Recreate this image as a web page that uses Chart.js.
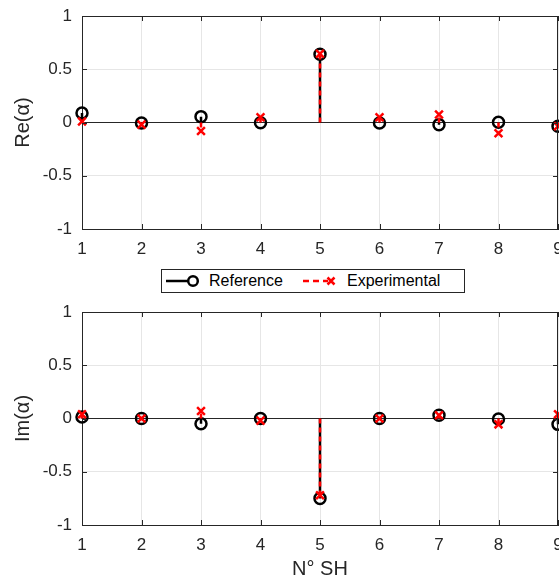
<!DOCTYPE html>
<html><head><meta charset="utf-8">
<script src="https://cdn.jsdelivr.net/npm/chart.js@4.4.1/dist/chart.umd.min.js"></script>
<style>
body{margin:0;width:559px;height:578px;overflow:hidden;background:#fff;position:relative;font-family:"Liberation Sans",Arial,sans-serif}
.wrap{position:absolute;left:0}
#legend{position:absolute;left:161px;top:269px;width:302px;height:22px;border:1px solid #262626;background:#fff;font-size:16px;color:#000}
#legend span{position:absolute;top:2px}
#legend svg{position:absolute;top:0}
</style></head><body>
<div class="wrap" style="top:0"><canvas id="c1" width="575" height="262"></canvas></div>
<div class="wrap" style="top:296px"><canvas id="c2" width="575" height="300"></canvas></div>
<div id="legend">
<svg style="left:0" width="45" height="22"><line x1="4" y1="11" x2="27" y2="11" stroke="#000" stroke-width="2.5"/><circle cx="31" cy="11" r="4.8" fill="none" stroke="#000" stroke-width="2.5"/></svg>
<span style="left:47px">Reference</span>
<svg style="left:138px" width="40" height="22"><line x1="3" y1="11" x2="28" y2="11" stroke="#f00" stroke-width="2.5" stroke-dasharray="6,4"/><path d="M27.5 7.5L34.5 14.5M34.5 7.5L27.5 14.5" stroke="#f00" stroke-width="2.5"/></svg>
<span style="left:185px">Experimental</span>
</div>
<script>
const shIndex = [1, 2, 3, 4, 5, 6, 7, 8, 9];
const reReference    = [0.09, -0.005, 0.055, -0.003, 0.64, -0.005, -0.02, 0.003, -0.035];
const reExperimental = [0.01, -0.02, -0.08, 0.05, 0.645, 0.05, 0.075, -0.10, -0.035];
const imReference    = [0.015, 0.0, -0.05, 0.0, -0.75, 0.0, 0.03, -0.005, -0.055];
const imExperimental = [0.04, 0.0, 0.07, -0.02, -0.72, 0.0, 0.03, -0.055, 0.04];
const yTicks = [-1, -0.5, 0, 0.5, 1];

const FONT = '"Liberation Sans", Arial, sans-serif';
const AX = '#262626';

function stems(xs, ys) {
  const out = [];
  xs.forEach((x, i) => { out.push({x: x, y: 0}, {x: x, y: ys[i]}, {x: x, y: null}); });
  return out;
}
function pts(xs, ys) { return xs.map((x, i) => ({x: x, y: ys[i]})); }

const boxPlugin = {
  id: 'box',
  afterDraw(chart) {
    const {ctx, chartArea: a, scales} = chart;
    ctx.save();
    ctx.strokeStyle = AX; ctx.lineWidth = 1;
    ctx.beginPath();
    ctx.moveTo(a.left, a.top + 0.5); ctx.lineTo(a.right, a.top + 0.5);
    ctx.moveTo(a.right - 0.5, a.top); ctx.lineTo(a.right - 0.5, a.bottom);
    scales.x.ticks.forEach(t => {
      const px = Math.round(scales.x.getPixelForValue(t.value)) + 0.5;
      ctx.moveTo(px, a.bottom); ctx.lineTo(px, a.bottom - 5);
      ctx.moveTo(px, a.top); ctx.lineTo(px, a.top + 5);
    });
    scales.y.ticks.forEach(t => {
      const py = Math.round(scales.y.getPixelForValue(t.value)) + 0.5;
      ctx.moveTo(a.left, py); ctx.lineTo(a.left + 5, py);
      ctx.moveTo(a.right, py); ctx.lineTo(a.right - 5, py);
    });
    ctx.stroke();
    ctx.restore();
  }
};

function makeChart(id, refVals, expVals, yTitle, xTitle, xAxisHeight) {
  return new Chart(document.getElementById(id), {
    type: 'scatter',
    data: {
      datasets: [
        {data: stems(shIndex, refVals), order: 4, showLine: true, spanGaps: false, borderColor: '#000', borderWidth: 2.5, pointRadius: 0, clip: false},
        {data: pts(shIndex, refVals), order: 3, pointStyle: 'circle', pointRadius: 5.5, borderColor: '#000', backgroundColor: 'rgba(0,0,0,0)', pointBorderWidth: 2.5, clip: false},
        {data: stems(shIndex, expVals), order: 2, showLine: true, spanGaps: false, borderColor: '#f00', borderWidth: 2.5, borderDash: [5, 4], pointRadius: 0, clip: false},
        {data: pts(shIndex, expVals), order: 1, pointStyle: 'crossRot', pointRadius: 5.5, borderColor: '#f00', pointBorderWidth: 2.5, clip: false}
      ]
    },
    options: {
      responsive: false, animation: false,
      layout: {padding: {left: 0, right: 17, top: 16, bottom: 0}},
      plugins: {legend: {display: false}, tooltip: {enabled: false}},
      scales: {
        x: {
          type: 'linear', min: 1, max: 9,
          afterBuildTicks: s => { s.ticks = shIndex.map(v => ({value: v})); },
          afterFit: s => { s.height = xAxisHeight; },
          grid: {color: '#e6e6e6', drawTicks: false},
          border: {display: true, color: AX, width: 1},
          ticks: {font: {family: FONT, size: 17}, color: AX, padding: 10, maxRotation: 0, callback: v => String(v)},
          title: xTitle ? {display: true, text: xTitle, font: {family: FONT, size: 20}, color: AX, padding: {top: 15, bottom: 15}} : {display: false}
        },
        y: {
          min: -1, max: 1,
          afterBuildTicks: s => { s.ticks = yTicks.map(v => ({value: v})); },
          afterFit: s => { s.width = 82; s.paddingTop = 0; s.paddingBottom = 0; },
          grid: {color: c => (c.tick && c.tick.value === 0) ? AX : '#e6e6e6', drawTicks: false},
          border: {display: true, color: AX, width: 1},
          ticks: {font: {family: FONT, size: 17}, color: AX, padding: 10, callback: v => String(v)},
          title: {display: true, text: yTitle, font: {family: FONT, size: 20}, color: AX, padding: {top: 11, bottom: 11}}
        }
      }
    },
    plugins: [boxPlugin]
  });
}

makeChart('c1', reReference, reExperimental, 'Re(α)', null, 33);
makeChart('c2', imReference, imExperimental, 'Im(α)', 'N° SH', 71);
</script>
</body></html>
